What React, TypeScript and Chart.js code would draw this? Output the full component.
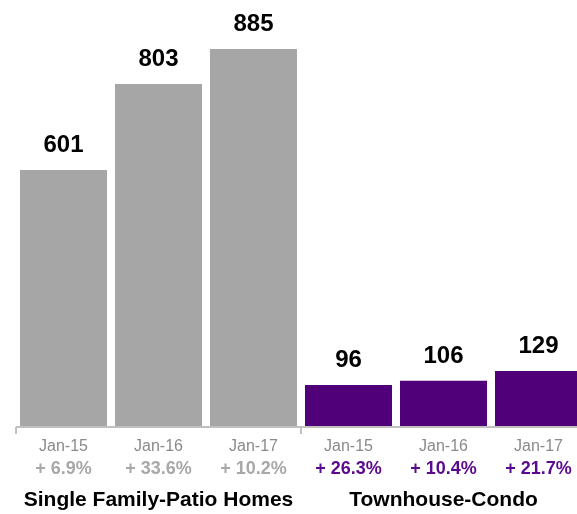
import React, { useEffect, useRef } from "react";
import { Chart, registerables } from "chart.js";

Chart.register(...registerables);

const categories = ["Jan-15", "Jan-16", "Jan-17", "Jan-15", "Jan-16", "Jan-17"];
const values = [601, 803, 885, 96, 106, 129];
const changes = ["+ 6.9%", "+ 33.6%", "+ 10.2%", "+ 26.3%", "+ 10.4%", "+ 21.7%"];
const groups = ["Single Family-Patio Homes", "Townhouse-Condo"];
const groupSizes = [3, 3];

const GRAY = "#a6a6a6";
const PURPLE = "#500078";
const FONT = "'Liberation Sans', Arial, Helvetica, sans-serif";

const barColors = values.map((_, i) => (i < groupSizes[0] ? GRAY : PURPLE));
const changeColors = values.map((_, i) => (i < groupSizes[0] ? "#a8a8a8" : "#5a0a8c"));

const annotatePlugin = {
  id: "annotate",
  afterDatasetsDraw(chart: any) {
    const ctx = chart.ctx;
    const meta = chart.getDatasetMeta(0);
    ctx.save();
    ctx.fillStyle = "#000";
    ctx.font = `bold 24px ${FONT}`;
    ctx.textAlign = "center";
    ctx.textBaseline = "alphabetic";
    meta.data.forEach((bar: any, i: number) => {
      ctx.fillText(String(values[i]), bar.x, bar.y - 18);
    });
    ctx.restore();
  },
  afterDraw(chart: any) {
    const ctx = chart.ctx;
    const x = chart.scales.x;
    const area = chart.chartArea;
    const half = (x.getPixelForValue(1) - x.getPixelForValue(0)) / 2;
    ctx.save();
    // axis line and group tick marks
    ctx.strokeStyle = "#c0c0c0";
    ctx.lineWidth = 2;
    ctx.beginPath();
    ctx.moveTo(area.left, area.bottom + 1);
    ctx.lineTo(area.right, area.bottom + 1);
    let idx = 0;
    const bounds = [0];
    groupSizes.forEach((n) => {
      idx += n;
      bounds.push(idx);
    });
    bounds.forEach((b) => {
      const px = x.getPixelForValue(b) - half;
      ctx.moveTo(px, area.bottom + 1);
      ctx.lineTo(px, area.bottom + 8);
    });
    ctx.stroke();
    // percent change labels
    ctx.textAlign = "center";
    ctx.textBaseline = "alphabetic";
    ctx.font = `bold 18px ${FONT}`;
    changes.forEach((t, i) => {
      ctx.fillStyle = changeColors[i];
      ctx.fillText(t, x.getPixelForValue(i), 474);
    });
    // group labels
    ctx.fillStyle = "#000";
    ctx.font = `bold 21px ${FONT}`;
    let start = 0;
    groups.forEach((g, gi) => {
      const n = groupSizes[gi];
      const cx = (x.getPixelForValue(start) + x.getPixelForValue(start + n - 1)) / 2;
      ctx.fillText(g, cx, 506);
      start += n;
    });
    ctx.restore();
  },
};

export default function App() {
  const ref = useRef<HTMLCanvasElement>(null);
  useEffect(() => {
    if (!ref.current) return;
    const chart = new Chart(ref.current, {
      type: "bar",
      data: {
        labels: categories,
        datasets: [
          {
            data: values,
            backgroundColor: barColors,
            borderWidth: 0,
            barPercentage: 0.916,
            categoryPercentage: 1,
          },
        ],
      },
      options: {
        animation: false,
        responsive: false,
        maintainAspectRatio: false,
        layout: { padding: { left: 16, right: 4, top: 0, bottom: 0 } },
        plugins: { legend: { display: false }, tooltip: { enabled: false } },
        scales: {
          x: {
            grid: { display: false },
            border: { display: false },
            ticks: {
              color: "#8a8a8a",
              font: { family: FONT, size: 16 },
              padding: 3,
              maxRotation: 0,
              autoSkip: false,
            },
            afterFit(scale: any) {
              scale.height = 88;
            },
          },
          y: {
            display: false,
            min: 0,
            max: 1000,
          },
        },
      },
      plugins: [annotatePlugin],
    });
    return () => chart.destroy();
  }, []);
  return (
    <div
      style={{
        position: "fixed",
        left: 0,
        top: 0,
        width: 577,
        height: 514,
        overflow: "hidden",
        background: "#fff",
      }}
    >
      <canvas ref={ref} width={590} height={514} style={{ width: 590, height: 514, display: "block" }} />
    </div>
  );
}
